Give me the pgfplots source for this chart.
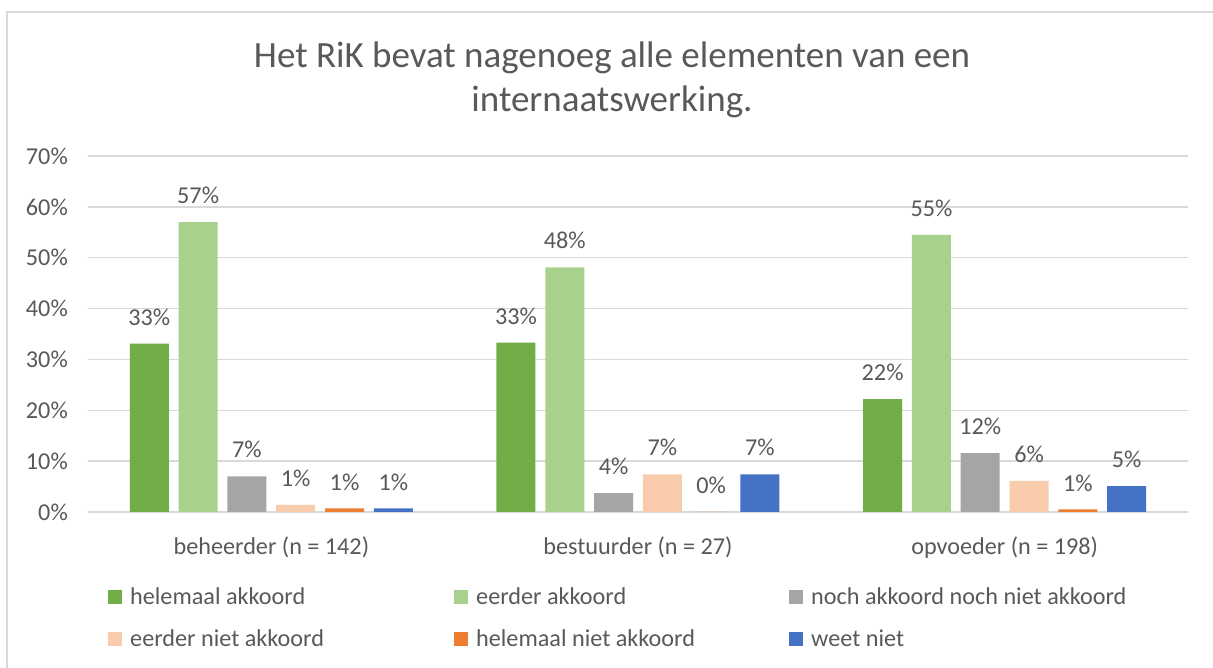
\documentclass[border=0pt]{standalone}
\usepackage{pgfplots}
\pgfplotsset{compat=1.18}
\usepackage{fontspec}
\setmainfont{Carlito}
\definecolor{txt}{HTML}{595959}
\definecolor{gridc}{HTML}{D9D9D9}
\definecolor{c1}{HTML}{70AD47}
\definecolor{c2}{HTML}{A9D18E}
\definecolor{c3}{HTML}{A5A5A5}
\definecolor{c4}{HTML}{F8CBAD}
\definecolor{c5}{HTML}{ED7D31}
\definecolor{c6}{HTML}{4472C4}
\newcommand{\fs}{\fontsize{24.2}{29}\selectfont}
\begin{document}
\begin{tikzpicture}
\useasboundingbox (0,0) rectangle (1213pt,668pt);
\fill[white] (0,0) rectangle (1213pt,668pt);
\draw[gridc, line width=1.5pt] (7pt,-5pt) -- (7pt,656pt) -- (1220pt,656pt);
\node[anchor=base, text=txt, font=\fontsize{37}{44}\selectfont] at (612pt,600pt) {Het RiK bevat nagenoeg alle elementen van een};
\node[anchor=base, text=txt, font=\fontsize{37}{44}\selectfont] at (612pt,556pt) {internaatswerking.};
\begin{axis}[
  at={(88pt,156pt)}, anchor=south west,
  scale only axis, width=1100pt, height=356pt,
  xmin=0, xmax=3, ymin=0, ymax=70,
  ytick={0,10,...,70},
  xtick={0.5,1.5,2.5},
  xticklabels={beheerder (n = 142), bestuurder (n = 27), opvoeder (n = 198)},
  /pgf/number format/assume math mode=true,
  yticklabel={\pgfmathprintnumber{\tick}\%},
  yticklabel style={anchor=east, inner sep=0pt, xshift=-20pt, font=\fs, text=txt},
  xticklabel style={anchor=center, inner sep=0pt, yshift=-31pt, font=\fs, text=txt},
  axis line style={draw=none},
  major tick style={draw=none},
  ymajorgrids, grid style={gridc, line width=1.5pt},
  ybar=9.8pt, bar width=39pt,
  point meta=explicit symbolic,
  nodes near coords,
  every node near coord/.append style={font=\fs, text=txt, inner sep=0pt, anchor=south, yshift=18pt},
  legend columns=3,
  legend cell align=left,
  legend style={at={(0,0)}, anchor=north west, xshift=20pt, yshift=-74pt,
    draw=none, fill=none, inner sep=0pt, font=\fs, text=txt,
    row sep=19pt,
    /tikz/every odd column/.append style={column sep=6pt}},
  legend image code/.code={\fill[#1] (0pt,-7pt) rectangle (14pt,7pt);},
]
\addplot[fill=c1, draw=none] coordinates {(0.5,33.1) [33\%] (1.5,33.3) [33\%] (2.5,22.2) [22\%]};
\addplot[fill=c2, draw=none] coordinates {(0.5,57.0) [57\%] (1.5,48.1) [48\%] (2.5,54.5) [55\%]};
\addplot[fill=c3, draw=none] coordinates {(0.5,7.0) [7\%] (1.5,3.7) [4\%] (2.5,11.6) [12\%]};
\addplot[fill=c4, draw=none] coordinates {(0.5,1.4) [1\%] (1.5,7.4) [7\%] (2.5,6.1) [6\%]};
\addplot[fill=c5, draw=none] coordinates {(0.5,0.7) [1\%] (1.5,0.0) [0\%] (2.5,0.5) [1\%]};
\addplot[fill=c6, draw=none] coordinates {(0.5,0.7) [1\%] (1.5,7.4) [7\%] (2.5,5.1) [5\%]};
\addlegendentry{\makebox[322pt][l]{helemaal akkoord}}
\addlegendentry{\makebox[311pt][l]{eerder akkoord}}
\addlegendentry{noch akkoord noch niet akkoord}
\addlegendentry{\makebox[322pt][l]{eerder niet akkoord}}
\addlegendentry{\makebox[311pt][l]{helemaal niet akkoord}}
\addlegendentry{weet niet}
\end{axis}
\end{tikzpicture}
\end{document}
